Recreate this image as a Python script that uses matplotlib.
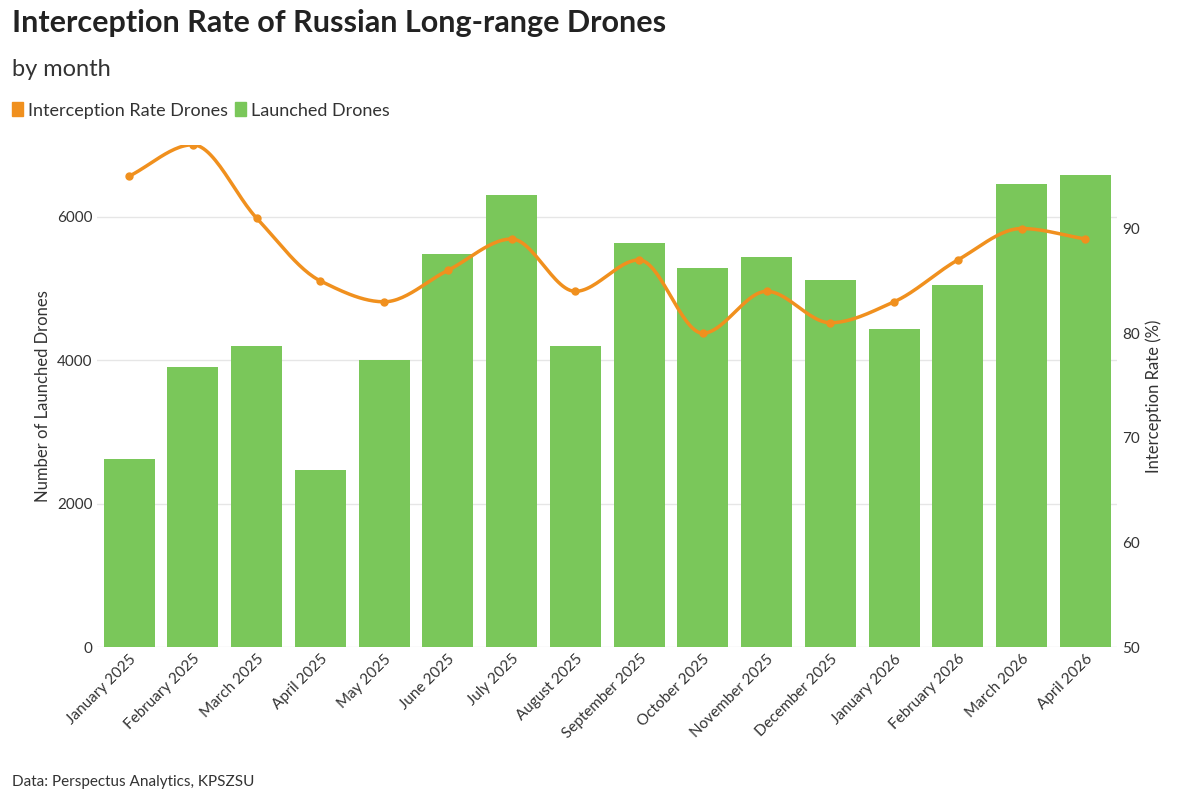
import numpy as np
import matplotlib.pyplot as plt
from matplotlib.patches import Rectangle

plt.rcParams['font.family'] = ['Lato', 'DejaVu Sans']

months = ['January 2025', 'February 2025', 'March 2025', 'April 2025', 'May 2025',
          'June 2025', 'July 2025', 'August 2025', 'September 2025', 'October 2025',
          'November 2025', 'December 2025', 'January 2026', 'February 2026',
          'March 2026', 'April 2026']
launched = [2625, 3900, 4200, 2470, 4000, 5480, 6300, 4200, 5625, 5290,
            5430, 5120, 4440, 5050, 6460, 6580]
rate = [95, 98, 91, 85, 83, 86, 89, 84, 87, 80, 84, 81, 83, 87, 90, 89]

green = '#7ac75a'
orange = '#f0901e'


def pchip(x, y, n=400):
    # monotone cubic, display only
    x = np.asarray(x, float)
    y = np.asarray(y, float)
    h = np.diff(x)
    d = np.diff(y) / h
    m = np.zeros_like(y)
    for i in range(1, len(y) - 1):
        if d[i - 1] * d[i] > 0:
            m[i] = 2 / (1 / d[i - 1] + 1 / d[i])
    m[0], m[-1] = d[0], d[-1]
    xs = np.linspace(x[0], x[-1], n)
    idx = np.clip(np.searchsorted(x, xs) - 1, 0, len(h) - 1)
    t = (xs - x[idx]) / h[idx]
    h00 = 2 * t**3 - 3 * t**2 + 1
    h10 = t**3 - 2 * t**2 + t
    h01 = -2 * t**3 + 3 * t**2
    h11 = t**3 - t**2
    ys = h00 * y[idx] + h10 * h[idx] * m[idx] + h01 * y[idx + 1] + h11 * h[idx] * m[idx + 1]
    return xs, ys


fig = plt.figure(figsize=(12, 8), dpi=100)
ax = fig.add_axes([0.081, 0.191, 0.85, 0.628])
x = np.arange(len(months))
ax.bar(x, launched, width=0.8, color=green, zorder=2)
ax.set_ylim(0, 7000)
ax.set_xlim(-0.5, len(months) - 0.5)
ax.set_yticks([0, 2000, 4000, 6000])
ax.grid(axis='y', color='#e6e6e6', lw=1, zorder=0)
ax.set_xticks(x)
ax.set_xticklabels(months, rotation=45, ha='right', rotation_mode='anchor', fontsize=11, color='#333')
ax.set_ylabel('Number of Launched Drones', fontsize=12, color='#333')
for s in ax.spines.values():
    s.set_visible(False)
ax.tick_params(length=0, labelsize=11, colors='#333')

ax2 = ax.twinx()
xs, ys = pchip(x, rate)
ax2.plot(xs, ys, color=orange, lw=2.5, zorder=3)
ax2.plot(x, rate, 'o', color=orange, ms=5, zorder=4)
ax2.set_ylim(50, 98)
ax2.set_yticks([50, 60, 70, 80, 90])
ax2.set_ylabel('Interception Rate (%)', fontsize=12, color='#333')
for s in ax2.spines.values():
    s.set_visible(False)
ax2.tick_params(length=0, labelsize=11, colors='#333')

fig.text(0.01, 0.96, 'Interception Rate of Russian Long-range Drones', fontsize=22,
         fontweight='bold', color='#222')
fig.text(0.01, 0.905, 'by month', fontsize=17, color='#333')
fig.patches.append(Rectangle((0.01, 0.855), 0.009, 0.018, transform=fig.transFigure,
                             color=orange, figure=fig))
fig.text(0.023, 0.855, 'Interception Rate Drones', fontsize=13, color='#333')
fig.patches.append(Rectangle((0.196, 0.855), 0.009, 0.018, transform=fig.transFigure,
                             color=green, figure=fig))
fig.text(0.209, 0.855, 'Launched Drones', fontsize=13, color='#333')
fig.text(0.01, 0.018, 'Data: Perspectus Analytics, KPSZSU', fontsize=11, color='#333')

fig.savefig('out.png', dpi=100)
